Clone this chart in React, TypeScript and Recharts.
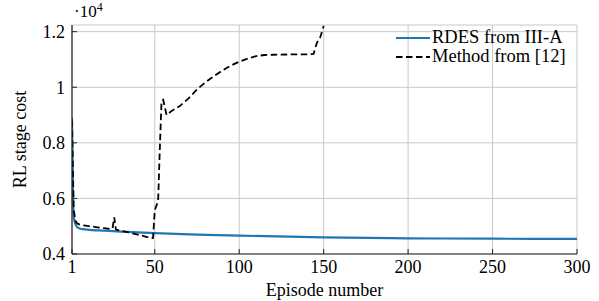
import React from "react";
import {
  CartesianGrid,
  Legend,
  Line,
  LineChart,
  XAxis,
  YAxis,
} from "recharts";

// Episode ticks and cost ticks (raw cost, axis shows value / 10^4)
const EPISODE_TICKS = [1, 50, 100, 150, 200, 250, 300];
const COST_TICKS = [4000, 6000, 8000, 10000, 12000];

// RDES from III-A
const rdesEpisodes = [1, 2, 3, 4, 6, 10, 20, 30, 40, 50, 75, 100, 150, 200, 250, 300];
const rdesCost = [8900, 5350, 5080, 4970, 4910, 4880, 4840, 4805, 4775, 4750, 4700, 4660, 4600, 4565, 4550, 4545];

// Method from [12]
const refEpisodes = [
  1, 2, 3, 4, 6, 10, 15, 20, 24, 25, 26, 27, 30, 35, 40, 45, 48, 49, 50, 51, 52, 53, 54, 55, 57,
  60, 65, 70, 75, 80, 85, 90, 95, 100, 105, 110, 115, 120, 130, 140, 144, 146, 148, 150,
];
const refCost = [
  8800, 5600, 5200, 5100, 5050, 5010, 4970, 4930, 4900, 4920, 5320, 4880, 4840, 4770, 4700, 4620, 4560, 4580, 5580, 5740, 5900, 7800, 9500, 9550, 9000,
  9150, 9330, 9600, 9920, 10180, 10400, 10600, 10780, 10920, 11030, 11120, 11160, 11170, 11180, 11180, 11200, 11600, 11800, 12200,
];

const rdesData = rdesEpisodes.map((ep, i) => ({ ep, cost: rdesCost[i] }));
const refData = refEpisodes.map((ep, i) => ({ ep, cost: refCost[i] }));

const FONT = "Liberation Serif, serif";
const FS = 18;
const BLUE = "#1f77b4";
const DASH = "6.5 3.5";
const Y_DOMAIN: [number, number] = [4000, 12240];
const X_DOMAIN: [number, number] = [1, 300];

const fmtCost = (v: number) => String(+(v / 10000).toFixed(1));

// serif tick labels drawn by hand so the font sticks
const XTick = (p: any) => (
  <text x={p.x} y={p.y} dy="0.71em" textAnchor="middle" fill="#000" fontSize={FS} style={{ fontFamily: FONT }}>
    {p.payload.value}
  </text>
);
const YTick = (p: any) => (
  <text x={p.x} y={p.y} dy="0.35em" textAnchor="end" fill="#000" fontSize={FS} style={{ fontFamily: FONT }}>
    {fmtCost(p.payload.value)}
  </text>
);

function LegendBox() {
  const items = [
    { label: "RDES from III-A", color: BLUE, dash: undefined as string | undefined },
    { label: "Method from [12]", color: "#000", dash: DASH },
  ];
  return (
    <div style={{ fontFamily: FONT, fontSize: 18.5, lineHeight: "19px", color: "#000", whiteSpace: "nowrap" }}>
      {items.map((it) => (
        <div key={it.label} style={{ display: "flex", alignItems: "center", height: 19 }}>
          <svg width={35} height={10} style={{ marginRight: 1 }}>
            <line x1={0} x2={34} y1={5} y2={5} stroke={it.color} strokeWidth={2} strokeDasharray={it.dash} />
          </svg>
          <span>{it.label}</span>
        </div>
      ))}
    </div>
  );
}

export default function App() {
  return (
    <div style={{ position: "absolute", left: 0, top: 0, width: 599, height: 301, background: "#fff", fontFamily: FONT }}>
      <div
        style={{
          position: "absolute",
          left: 74,
          top: 0,
          fontSize: 17,
          lineHeight: "24px",
          zIndex: 2,
        }}
      >
        ·10<sup style={{ fontSize: 12, verticalAlign: 6, lineHeight: 0 }}>4</sup>
      </div>
      <LineChart
        width={599}
        height={301}
        margin={{ top: 25, right: 22, bottom: 0, left: 0 }}
        style={{ fontFamily: FONT }}
      >
        <CartesianGrid stroke="#c8c8c8" strokeWidth={1} />
        <XAxis
          dataKey="ep"
          type="number"
          domain={X_DOMAIN}
          ticks={EPISODE_TICKS}
          allowDataOverflow
          height={47}
          tickSize={-5}
          tickMargin={11}
          tickLine={{ stroke: "#222" }}
          axisLine={{ stroke: "#222", strokeWidth: 1.2 }}
          tick={<XTick />}
          label={{
            value: "Episode number",
            position: "insideBottom",
            offset: 5,
            style: { fill: "#000", fontSize: FS, fontFamily: FONT },
          }}
        />
        <XAxis
          xAxisId="top"
          orientation="top"
          dataKey="ep"
          type="number"
          domain={X_DOMAIN}
          ticks={EPISODE_TICKS}
          height={0}
          tickSize={-5}
          tickLine={{ stroke: "#222" }}
          axisLine={{ stroke: "#222", strokeWidth: 1.2 }}
          tickFormatter={() => ""}
        />
        <YAxis
          type="number"
          domain={Y_DOMAIN}
          ticks={COST_TICKS}
          allowDataOverflow
          width={72}
          tickSize={-5}
          tickMargin={12}
          tickLine={{ stroke: "#222" }}
          axisLine={{ stroke: "#222", strokeWidth: 1.2 }}
          tick={<YTick />}
          label={{
            value: "RL stage cost",
            angle: -90,
            position: "insideLeft",
            offset: 20,
            style: { fill: "#000", fontSize: FS, fontFamily: FONT, textAnchor: "middle" },
          }}
        />
        <YAxis
          yAxisId="right"
          orientation="right"
          type="number"
          domain={Y_DOMAIN}
          ticks={COST_TICKS}
          width={0}
          tickSize={-5}
          tickLine={{ stroke: "#222" }}
          axisLine={{ stroke: "#222", strokeWidth: 1.2 }}
          tickFormatter={() => ""}
        />
        <Legend
          layout="horizontal"
          verticalAlign="middle"
          align="center"
          content={() => <LegendBox />}
          wrapperStyle={{ left: 396, top: 28, width: 190, height: 40 }}
        />
        <Line
          data={rdesData}
          dataKey="cost"
          type="monotone"
          stroke={BLUE}
          strokeWidth={2.2}
          dot={false}
          activeDot={false}
          isAnimationActive={false}
        />
        <Line
          data={refData}
          dataKey="cost"
          type="linear"
          stroke="#000"
          strokeWidth={1.8}
          strokeDasharray={DASH}
          dot={false}
          activeDot={false}
          isAnimationActive={false}
        />
      </LineChart>
    </div>
  );
}
